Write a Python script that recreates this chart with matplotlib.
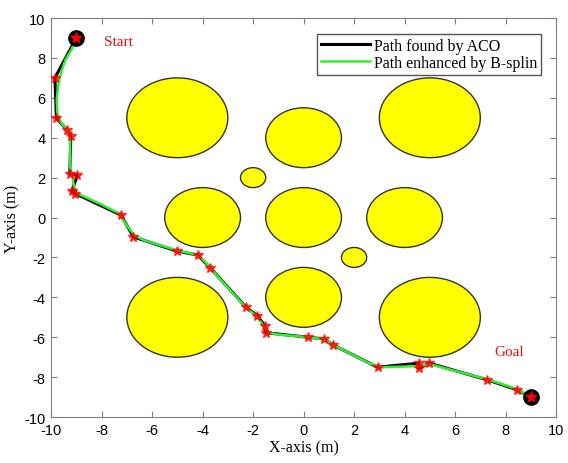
import numpy as np
import matplotlib
matplotlib.use('Agg')
import matplotlib.pyplot as plt
from matplotlib.patches import Circle

plt.rcParams['axes.unicode_minus'] = False

# obstacles (centre x, centre y, radius)
obs_x = [-5, 5, -5, 5, 0, -4, 0, 4, 0, -2, 2]
obs_y = [5, 5, -5, -5, 4, 0, 0, 0, -4, 2, -2]
obs_r = [2, 2, 2, 2, 1.5, 1.5, 1.5, 1.5, 1.5, 0.5, 0.5]

# ACO waypoints
aco_x = [-9.0, -9.85, -9.79, -9.38, -9.22, -9.26, -8.96, -9.18, -9.04, -7.23, -6.74,
         -5.03, -4.2, -3.69, -2.28, -1.83, -1.54, -1.49, 0.17, 0.79, 1.16, 2.93,
         4.56, 4.56, 4.98, 7.26, 8.45, 9.0]
aco_y = [9.0, 7.0, 5.0, 4.4, 4.08, 2.17, 2.12, 1.33, 1.2, 0.12, -0.97,
         -1.68, -1.88, -2.53, -4.5, -4.92, -5.42, -5.77, -6.0, -6.08, -6.38, -7.5,
         -7.3, -7.55, -7.3, -8.13, -8.63, -9.0]

# smoothed path
bsp_x = [-9.0, -9.2, -9.42, -9.6, -9.72, -9.78, -9.75, -9.6, -9.38, -9.25, -9.24, -9.15,
         -9.1, -8.95, -8.0, -7.3, -7.0, -6.7, -6.3, -5.0, -4.3, -3.95, -3.65, -2.3,
         -1.85, -1.6, -1.4, -1.1, 0.2, 0.8, 1.2, 2.6, 3.1, 4.5, 5.0, 7.25, 8.45, 9.0]
bsp_y = [9.0, 8.4, 7.95, 7.3, 6.6, 5.9, 5.2, 4.75, 4.4, 4.0, 2.5, 2.05,
         1.6, 1.2, 0.65, 0.2, -0.4, -0.9, -1.15, -1.65, -1.85, -2.15, -2.6, -4.5,
         -4.95, -5.4, -5.75, -5.85, -6.0, -6.1, -6.4, -7.3, -7.5, -7.45, -7.35, -8.1, -8.6, -9.0]

serif = 'Liberation Serif'
sans = 'Liberation Sans'

fig = plt.figure(figsize=(5.68, 4.64), dpi=100, facecolor='white')
ax = fig.add_axes([0.09, 0.099, 0.889, 0.86])

for cx, cy, r in zip(obs_x, obs_y, obs_r):
    ax.add_patch(Circle((cx, cy), r, facecolor='#ffff00', edgecolor='#333333', lw=1.0, zorder=1))

ax.plot(aco_x, aco_y, '-', color='black', lw=2.2, label='Path found by ACO', zorder=2)
ax.plot(bsp_x, bsp_y, '-', color='#33ee33', lw=1.8, label='Path enhanced by B-splin', zorder=3)
ax.plot(aco_x[1:-1], aco_y[1:-1], '*', color='red', ms=7, alpha=0.75, zorder=4)
ax.plot([aco_x[0], aco_x[-1]], [aco_y[0], aco_y[-1]], 'o', color='black', ms=11, zorder=4)
ax.plot([aco_x[0], aco_x[-1]], [aco_y[0], aco_y[-1]], '*', color='red', ms=8, zorder=5)

ax.text(-7.9, 8.8, 'Start', color='#dd1111', fontsize=11, family=serif, va='center', ha='left')
ax.text(7.55, -6.7, 'Goal', color='#dd1111', fontsize=11, family=serif, va='center', ha='left')

ax.set_xlim(-10, 10); ax.set_ylim(-10, 10)
ax.set_xticks(np.arange(-10, 11, 2)); ax.set_yticks(np.arange(-10, 11, 2))
ax.tick_params(direction='in', top=True, right=True, length=4, color='#808080', labelsize=10.5, pad=4)
for lab in ax.get_xticklabels() + ax.get_yticklabels():
    lab.set_family(sans)
for s in ax.spines.values():
    s.set_color('#808080')
ax.set_xlabel('X-axis (m)', family=serif, fontsize=11.5, labelpad=2)
ax.set_ylabel('Y-axis (m)', family=serif, fontsize=11.5, labelpad=3)

leg = ax.legend(loc='upper right', bbox_to_anchor=(0.97, 0.96), prop={'family': serif, 'size': 11.5},
                fancybox=False, edgecolor='#555555', framealpha=1, handlelength=3.1,
                borderpad=0.25, labelspacing=0.05, handletextpad=0.2, borderaxespad=0)
leg.get_frame().set_linewidth(1.0)

plt.savefig('out.png', dpi=100)
